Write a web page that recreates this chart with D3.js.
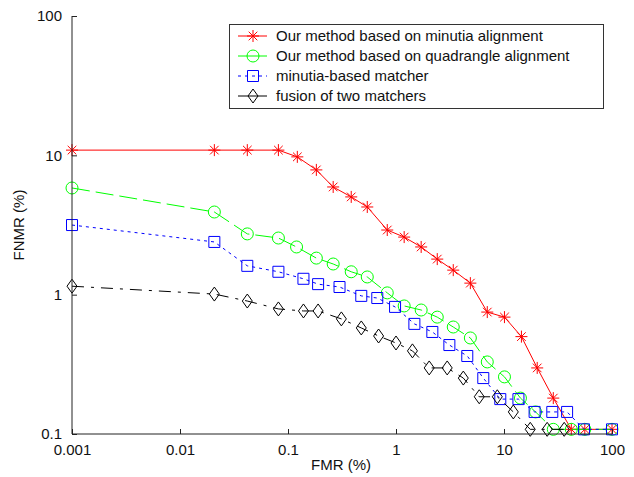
<!DOCTYPE html>
<html><head><meta charset="utf-8">
<script src="https://cdn.jsdelivr.net/npm/d3@7/dist/d3.min.js"></script>
<style>
html,body{margin:0;padding:0;background:#fff;}
svg text{font-family:"Liberation Sans",Arial,Helvetica,sans-serif;}
</style></head>
<body>
<svg id="chart" width="634" height="477"></svg>
<script>
// ---- data ----
const seriesNames = [
  "Our method based on minutia alignment",
  "Our method based on quadrangle alignment",
  "minutia-based matcher",
  "fusion of two matchers"
];
const fmrMinutia = [0.001, 0.0208, 0.042, 0.0815, 0.122, 0.183, 0.262, 0.385, 0.542, 0.83, 1.19, 1.71, 2.41, 3.39, 4.88, 7.0, 10.1, 14.5, 20.3, 28.6, 42, 56, 100];
const fnmrMinutia = [10.9, 10.9, 10.9, 10.9, 9.75, 7.86, 5.93, 5.03, 4.26, 2.91, 2.59, 2.2, 1.80, 1.50, 1.21, 0.75, 0.69, 0.50, 0.298, 0.181, 0.108, 0.108, 0.108];
const fmrQuad = [0.001, 0.0208, 0.042, 0.0815, 0.12, 0.183, 0.262, 0.385, 0.542, 0.83, 1.19, 1.71, 2.41, 3.39, 4.88, 7.0, 10.1, 14.2, 19.6, 28.6, 42, 56, 100];
const fnmrQuad = [5.83, 3.92, 2.73, 2.55, 2.2, 1.83, 1.66, 1.46, 1.34, 1.03, 0.83, 0.776, 0.69, 0.586, 0.489, 0.329, 0.257, 0.181, 0.144, 0.108, 0.108, 0.108, 0.108];
const fmrMatcher = [0.001, 0.0208, 0.042, 0.0815, 0.139, 0.19, 0.30, 0.477, 0.671, 0.98, 1.48, 2.17, 3.12, 4.57, 6.43, 9.24, 13.6, 19.2, 28.0, 38.4, 55, 100];
const fnmrMatcher = [3.16, 2.39, 1.61, 1.46, 1.30, 1.19, 1.135, 0.98, 0.946, 0.817, 0.617, 0.54, 0.435, 0.363, 0.252, 0.178, 0.178, 0.144, 0.144, 0.144, 0.108, 0.108];
const fmrFusion = [0.001, 0.0208, 0.042, 0.0815, 0.139, 0.19, 0.312, 0.477, 0.69, 1.0, 1.42, 2.03, 2.98, 4.2, 5.9, 8.67, 12.2, 17.5, 25.1, 36.1];
const fnmrFusion = [1.15, 1.01, 0.90, 0.79, 0.764, 0.764, 0.67, 0.577, 0.505, 0.45, 0.395, 0.298, 0.298, 0.252, 0.185, 0.185, 0.144, 0.108, 0.108, 0.108];
const xTicks = [0.001, 0.01, 0.1, 1, 10, 100];
const xTickLabels = ["0.001", "0.01", "0.1", "1", "10", "100"];
const yTicks = [0.1, 1, 10, 100];
const yTickLabels = ["0.1", "1", "10", "100"];
const xTitle = "FMR (%)";
const yTitle = "FNMR (%)";

// ---- layout ----
const svg = d3.select("#chart");
const X0 = 72, X1 = 612, Y0 = 434, Y1 = 16;
const x = d3.scaleLog().domain([0.001, 100]).range([X0, X1]);
const y = d3.scaleLog().domain([0.1, 100]).range([Y0, Y1]);

const series = [
  {name: seriesNames[0], xs: fmrMinutia, ys: fnmrMinutia, color: "#ff0000", dash: null, legendDash: null, marker: "star"},
  {name: seriesNames[1], xs: fmrQuad, ys: fnmrQuad, color: "#00ff00", dash: "18,6", legendDash: null, marker: "circle"},
  {name: seriesNames[2], xs: fmrMatcher, ys: fnmrMatcher, color: "#0000ff", dash: "3,4", legendDash: "3,4", marker: "square"},
  {name: seriesNames[3], xs: fmrFusion, ys: fnmrFusion, color: "#000000", dash: "12,7,3,7", legendDash: null, marker: "diamond"}
];

function markerPath(type, cx, cy) {
  const p = d3.path();
  if (type === "star") {
    const r = 6, d = 4.3;
    p.moveTo(cx - r, cy); p.lineTo(cx + r, cy);
    p.moveTo(cx, cy - r); p.lineTo(cx, cy + r);
    p.moveTo(cx - d, cy - d); p.lineTo(cx + d, cy + d);
    p.moveTo(cx - d, cy + d); p.lineTo(cx + d, cy - d);
  } else if (type === "circle") {
    p.moveTo(cx + 6, cy); p.arc(cx, cy, 6, 0, 2 * Math.PI);
  } else if (type === "square") {
    p.rect(cx - 5.5, cy - 5.5, 11, 11);
  } else if (type === "diamond") {
    p.moveTo(cx, cy - 7); p.lineTo(cx + 5, cy); p.lineTo(cx, cy + 7); p.lineTo(cx - 5, cy); p.closePath();
  }
  return p.toString();
}

// ---- series ----
const line = d3.line().x(d => x(d[0])).y(d => y(d[1]));
series.forEach(s => {
  const pts = s.xs.map((v, i) => [v, s.ys[i]]);
  const g = svg.append("g");
  g.append("path").attr("d", line(pts)).attr("fill", "none")
    .attr("stroke", s.color).attr("stroke-width", 1)
    .attr("stroke-dasharray", s.dash);
  g.selectAll("path.m").data(pts).enter().append("path").attr("class", "m")
    .attr("d", d => markerPath(s.marker, x(d[0]), y(d[1])))
    .attr("fill", "none").attr("stroke", s.color).attr("stroke-width", 1);
});

// ---- axes ----
const axisColor = "#222";
const xAxis = d3.axisBottom(x).tickValues(xTicks).tickFormat((d, i) => xTickLabels[i]).tickSize(-5).tickPadding(10);
const gx = svg.append("g").attr("transform", `translate(0,${Y0})`).call(xAxis);
const yAxis = d3.axisLeft(y).tickValues(yTicks).tickFormat((d, i) => yTickLabels[i]).tickSize(-5).tickPadding(10);
const gy = svg.append("g").attr("transform", `translate(${X0},0)`).call(yAxis);
[gx, gy].forEach(g => {
  g.select(".domain").attr("stroke", axisColor);
  g.selectAll(".tick line").attr("stroke", axisColor);
  g.selectAll("text").attr("fill", "#111").style("font-size", "15px")
    .style("font-family", '"Liberation Sans",Arial,sans-serif');
});
gy.select(".domain").attr("d", `M0,${Y0}V${Y1}`);
gx.select(".domain").attr("d", `M${X0},0H${X1}`);

svg.append("text").attr("x", 341).attr("y", 470).attr("text-anchor", "middle")
  .style("font-size", "15px").attr("fill", "#111").text(xTitle);
svg.append("text").attr("transform", "translate(24,225) rotate(-90)").attr("text-anchor", "middle")
  .style("font-size", "15px").attr("fill", "#111").text(yTitle);

// ---- legend ----
const lg = svg.append("g");
lg.append("rect").attr("x", 229.5).attr("y", 24.5).attr("width", 374).attr("height", 84)
  .attr("fill", "#fff").attr("stroke", "#333").attr("stroke-width", 1);
series.forEach((s, i) => {
  const cy = 36 + i * 20;
  lg.append("line").attr("x1", 238).attr("x2", 267).attr("y1", cy).attr("y2", cy)
    .attr("stroke", s.color).attr("stroke-width", 1).attr("stroke-dasharray", s.legendDash);
  lg.append("path").attr("d", markerPath(s.marker, 253, cy)).attr("fill", "none").attr("stroke", s.color);
  lg.append("text").attr("x", 276).attr("y", cy).attr("dy", "0.36em")
    .style("font-size", "15px").attr("fill", "#111").text(s.name);
});
</script>
</body></html>
